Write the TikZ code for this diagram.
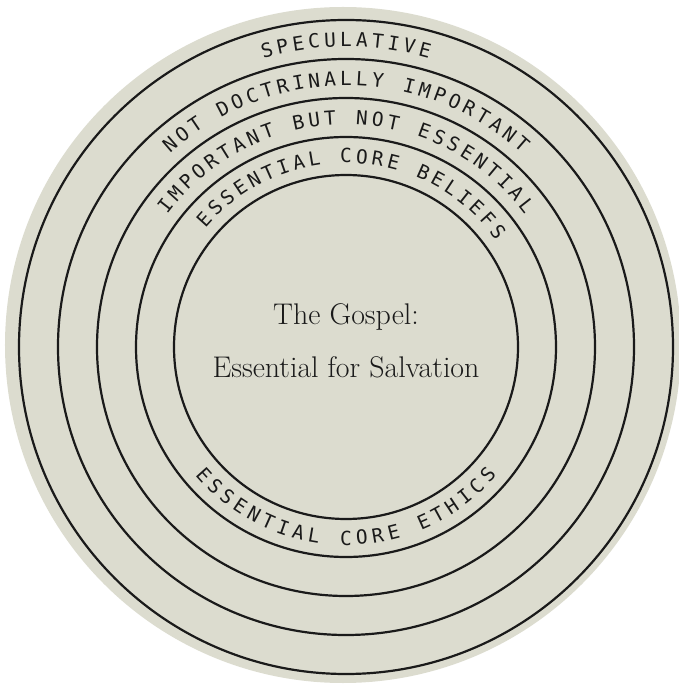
\documentclass[tikz,border=0pt]{standalone}
\usepackage{fontspec}
\newfontfamily\monofnt{DejaVu Sans Mono}
\definecolor{bgbeige}{RGB}{220,220,207}
\definecolor{inkline}{RGB}{26,26,26}
\tikzset{
  ring/.style={draw=inkline, line width=2.2bp},
  arcletter/.style={font=\monofnt\fontsize{19.5}{21}\selectfont, text=inkline, inner sep=0pt, anchor=base},
  centertext/.style={font=\fontsize{30}{36}\selectfont, text=inkline, inner sep=0pt, anchor=base}
}
% top arc text: #1 name, #2 baseline radius, #3 mid radius, #4 count, #5 letters
\newcommand\toparctext[5]{%
  \pgfmathsetmacro\dstep{16/#3*180/pi}%
  \foreach \c [count=\i] in {#5} {%
    \pgfmathsetmacro\ang{90+(#4-1)/2*\dstep-(\i-1)*\dstep}%
    \pgfmathsetmacro\rot{\ang-90}%
    \node[arcletter, rotate=\rot] (#1-\i) at (\ang:#2) {\c};
  }}
\newcommand\botarctext[5]{%
  \pgfmathsetmacro\dstep{16/#3*180/pi}%
  \foreach \c [count=\i] in {#5} {%
    \pgfmathsetmacro\ang{270-(#4-1)/2*\dstep+(\i-1)*\dstep}%
    \pgfmathsetmacro\rot{\ang+90}%
    \node[arcletter, rotate=\rot] (#1-\i) at (\ang:#2) {\c};
  }}
\begin{document}
\begin{tikzpicture}[x=1bp,y=1bp]
\useasboundingbox (-346,347) rectangle (333,-339);
\fill[bgbeige] (-3,2) circle[radius=338];
\draw[ring] (0,0) circle[radius=327];
\draw[ring] (0,0) circle[radius=288];
\draw[ring] (0,0) circle[radius=249];
\draw[ring] (0,0) circle[radius=210];
\draw[ring] (0,0) circle[radius=172];
\toparctext{spec}{300.5}{307.5}{11}{S,P,E,C,U,L,A,T,I,V,E}
\toparctext{notdoc}{261.5}{268.5}{25}{N,O,T,{},D,O,C,T,R,I,N,A,L,L,Y,{},I,M,P,O,R,T,A,N,T}
\toparctext{impbut}{222.5}{229.5}{27}{I,M,P,O,R,T,A,N,T,{},B,U,T,{},N,O,T,{},E,S,S,E,N,T,I,A,L}
\toparctext{beliefs}{184}{191}{21}{E,S,S,E,N,T,I,A,L,{},C,O,R,E,{},B,E,L,I,E,F,S}
\botarctext{ethics}{198}{191}{21}{E,S,S,E,N,T,I,A,L,{},C,O,R,E,{},E,T,H,I,C,S}
\node[centertext] (gospel) at (0,22) {The Gospel:};
\node[centertext] (salv) at (0,-30.6) {Essential for Salvation};
\end{tikzpicture}
\end{document}
